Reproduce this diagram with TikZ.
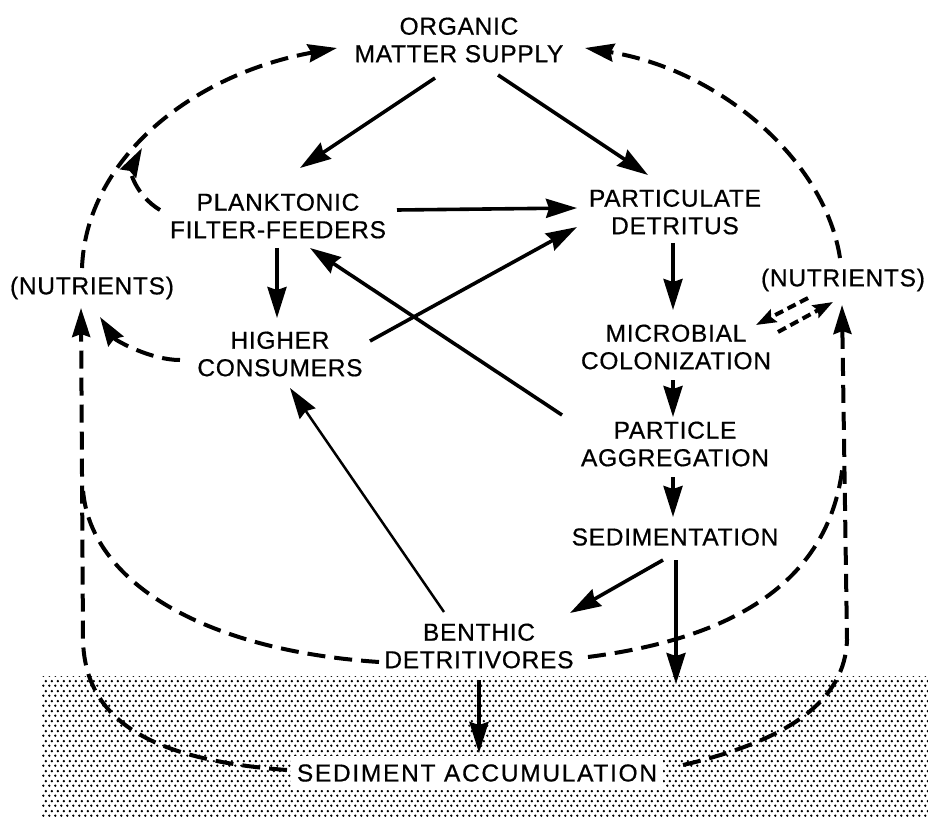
\documentclass[tikz,border=0pt]{standalone}
\usepackage{fontspec}
\setmainfont{Liberation Sans}
\newfontfamily\labfont[LetterSpace=3,FakeBold=0.6]{Liberation Sans}
\usetikzlibrary{arrows.meta,patterns}
\pgfdeclarepatternformonly{stip}{\pgfpointorigin}{\pgfpoint{6pt}{10pt}}{\pgfpoint{6pt}{10pt}}{%
  \pgfpathcircle{\pgfpoint{1.5pt}{2.5pt}}{1.45pt}%
  \pgfpathcircle{\pgfpoint{4.5pt}{7.5pt}}{1.45pt}%
  \pgfusepath{fill}}
\tikzset{
  lab/.style={font=\labfont\fontsize{24.5}{27.5}\selectfont, align=center, inner sep=0pt},
  sol/.style={line width=3.6pt, -{Stealth[length=31pt,width=19pt,inset=3pt]}},
  solthin/.style={line width=2.5pt, -{Stealth[length=31pt,width=19pt,inset=3pt]}},
  dsh/.style={line width=4pt, dash pattern=on 18pt off 9pt},
  dsharr/.style={dsh, -{Stealth[length=29pt,width=18pt,inset=3pt]}},
  dshsmall/.style={line width=4pt, dash pattern=on 9pt off 5pt, -{Stealth[length=20pt,width=14pt,inset=3pt]}}
}
\begin{document}
\begin{tikzpicture}[x=1pt,y=-1pt]
\useasboundingbox (0,0) rectangle (928,818);
\fill[pattern=stip] (42,676) rectangle (928,816);

\node[lab] (oms) at (459,40) {ORGANIC\\MATTER SUPPLY};
\node[lab] (plank) at (278,216) {PLANKTONIC\\FILTER-FEEDERS};
\node[lab] (part) at (675,212) {PARTICULATE\\DETRITUS};
\node[lab] (nutL) at (92,288) {(NUTRIENTS)};
\node[lab] (higher) at (280,354) {HIGHER\\CONSUMERS};
\node[lab] (nutR) at (843,280) {(NUTRIENTS)};
\node[lab] (micro) at (676,347) {MICROBIAL\\COLONIZATION};
\node[lab] (pagg) at (675,444) {PARTICLE\\AGGREGATION};
\node[lab] (sedim) at (675,537) {SEDIMENTATION};
\node[lab] (benthic) at (479,646) {BENTHIC\\DETRITIVORES};
\node[lab, fill=white, inner xsep=6pt, inner ysep=8pt] (sedacc) at (477,773) {\addfontfeature{LetterSpace=7}SEDIMENT ACCUMULATION};

\coordinate (ground) at (676,684);
\coordinate (jA) at (142,148);
\coordinate (mergeL) at (83,490);
\coordinate (mergeR) at (843,463);

% solid arrows
\draw[sol] ([shift={(-24,38)}]oms.center) -- ([shift={(22,-48)}]plank.center);
\draw[sol] ([shift={(39,35)}]oms.center) -- ([shift={(-27,-37)}]part.center);
\draw[sol] ([shift={(119,-6)}]plank.center) -- ([shift={(-98,-4)}]part.center);
\draw[sol] ([shift={(-1,32)}]plank.center) -- ([shift={(-3,-36)}]higher.center);
\draw[sol] ([shift={(90,-13)}]higher.center) -- ([shift={(-98,15)}]part.center);
\draw[sol] ([shift={(-113,-29)}]pagg.center) -- ([shift={(32,32)}]plank.center);
\draw[sol] ([shift={(-2,31)}]part.center) -- ([shift={(-3,-37)}]micro.center);
\draw[sol] ([shift={(-3,33)}]micro.center) -- ([shift={(-2,-27)}]pagg.center);
\draw[sol] ([shift={(-2,33)}]pagg.center) -- ([shift={(-2,-20)}]sedim.center);
\draw[sol] ([shift={(-12,23)}]sedim.center) -- ([shift={(91,-33)}]benthic.center);
\draw[sol] ([shift={(1,23)}]sedim.center) -- (ground);
\draw[sol] ([shift={(0,34)}]benthic.center) -- ([shift={(2,-20)}]sedacc.center);
\draw[solthin] ([shift={(-35,-34)}]benthic.center) -- ([shift={(10,34)}]higher.center);

% dashed connectors
\draw[dsharr] ([shift={(-10,-20)}]nutL.center) .. controls (86,160) and (190,75) .. ([shift={(-122,8)}]oms.center);
\draw[dsharr] ([shift={(-118,-6)}]plank.center) .. controls (135,195) and (130,170) .. (jA);
\draw[dsharr] ([shift={(-100,6)}]higher.center) .. controls (150,360) and (115,340) .. ([shift={(8,29)}]nutL.center);
\draw[dsharr] ([shift={(-190,-3)}]sedacc.center) .. controls (150,760) and (85,720) .. (83,640) -- ([shift={(-11,20)}]nutL.center);
\draw[dsh] ([shift={(-100,16)}]benthic.center) .. controls (200,650) and (90,580) .. (mergeL);
\draw[dsharr] ([shift={(-3,-22)}]nutR.center) .. controls (825,160) and (720,70) .. ([shift={(126,8)}]oms.center);
\draw[dshsmall] ([shift={(-35,18)}]nutR.center) -- ([shift={(80,-22)}]micro.center);
\draw[dshsmall] ([shift={(102,-15)}]micro.center) -- ([shift={(-10,22)}]nutR.center);
\draw[dsharr] ([shift={(206,-8)}]sedacc.center) .. controls (790,740) and (845,700) .. (847,640) -- ([shift={(-1,25)}]nutR.center);
\draw[dsh] ([shift={(109,11)}]benthic.center) .. controls (720,640) and (830,590) .. (mergeR);
\end{tikzpicture}
\end{document}
